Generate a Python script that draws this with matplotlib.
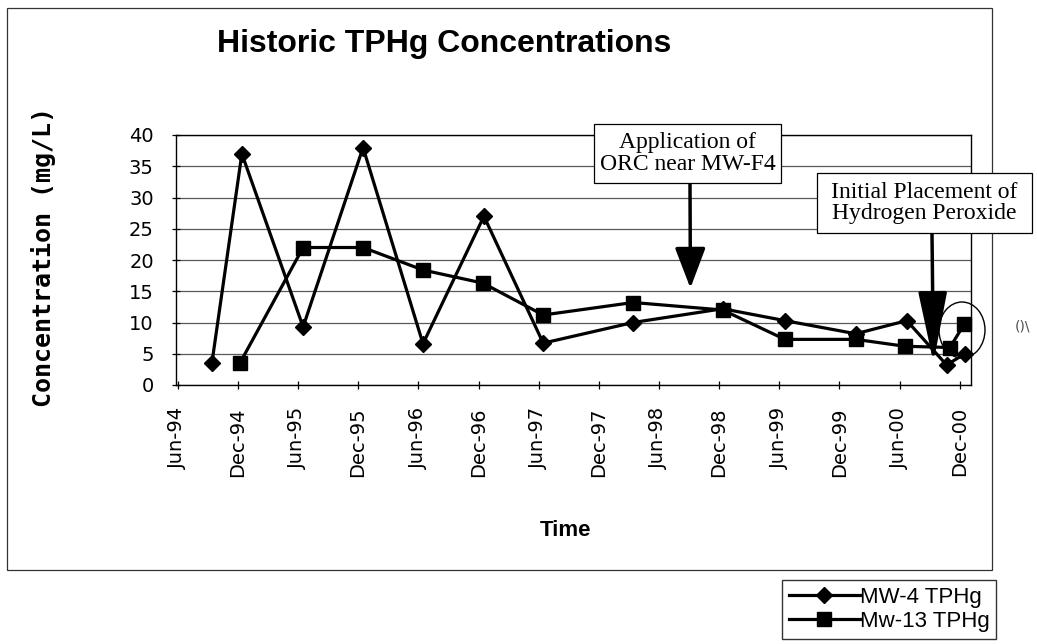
import numpy as np
import matplotlib.pyplot as plt
from matplotlib.patches import Rectangle, Ellipse

# sampling dates and concentrations (mg/L)
mw4_dates = np.array(['1994-09-13', '1994-12-13', '1995-06-17', '1995-12-16',
                      '1996-06-15', '1996-12-17', '1997-06-15', '1998-03-15',
                      '1998-12-12', '1999-06-19', '2000-01-20', '2000-06-23',
                      '2000-10-22', '2000-12-16'], dtype='datetime64[D]')
mw4_tphg = [3.5, 37, 9.3, 38, 6.6, 27, 6.7, 10.0, 12.2, 10.3, 8.2, 10.3, 3.2, 5.0]

mw13_dates = np.array(['1994-12-07', '1995-06-17', '1995-12-16', '1996-06-15',
                       '1996-12-14', '1997-06-15', '1998-03-15', '1998-12-12',
                       '1999-06-19', '2000-01-20', '2000-06-17', '2000-11-01',
                       '2000-12-14'], dtype='datetime64[D]')
mw13_tphg = [3.5, 22, 22, 18.4, 16.3, 11.2, 13.2, 12.0, 7.3, 7.3, 6.2, 6.0, 9.7]

tick_dates = np.array(['1994-06-01', '1994-12-01', '1995-06-01', '1995-12-01',
                       '1996-06-01', '1996-12-01', '1997-06-01', '1997-12-01',
                       '1998-06-01', '1998-12-01', '1999-06-01', '1999-12-01',
                       '2000-06-01', '2000-12-01'], dtype='datetime64[D]')
tick_labels = ['Jun-94', 'Dec-94', 'Jun-95', 'Dec-95', 'Jun-96', 'Dec-96', 'Jun-97',
               'Dec-97', 'Jun-98', 'Dec-98', 'Jun-99', 'Dec-99', 'Jun-00', 'Dec-00']

# events pointed at by the arrows
orc_date = np.datetime64('1998-09-05')
h2o2_date = np.datetime64('2000-09-12')

W, H = 1037, 644
fig = plt.figure(figsize=(W / 100, H / 100), dpi=100)


def px(x, y):
    # pixel position (from top-left) -> figure fraction
    return x / W, 1 - y / H


ax = fig.add_axes([176 / W, 1 - 385 / H, 795 / W, 250 / H])

ax.plot(mw4_dates, mw4_tphg, color='black', lw=2.3, marker='D', ms=8,
        label='MW-4 TPHg', zorder=4, clip_on=False)
ax.plot(mw13_dates, mw13_tphg, color='black', lw=2.3, marker='s', ms=10,
        label='Mw-13 TPHg', zorder=3, clip_on=False)

ax.set_xlim(np.datetime64('1994-05-27'), np.datetime64('2001-01-04'))
ax.set_ylim(0, 40)
ax.set_yticks(np.arange(0, 41, 5))
ax.set_xticks(tick_dates)
ax.set_xticklabels(tick_labels, rotation=90)
ax.grid(axis='y', color='0.35', lw=0.9)
ax.set_axisbelow(True)
for s in ax.spines.values():
    s.set_color('black')
    s.set_linewidth(1.0)
ax.tick_params(axis='both', direction='inout', length=6, width=0.9,
               labelsize=14, pad=13)

# axis titles
fig.text(*px(44, 257), 'Concentration (mg/L)', rotation=90, ha='center', va='center',
         fontsize=18, fontweight='bold', family='DejaVu Sans Mono')
fig.text(*px(565, 530), 'Time', ha='center', va='center', fontsize=16,
         fontweight='bold', family='Liberation Sans')
fig.text(*px(217, 52), 'Historic TPHg Concentrations', ha='left', va='baseline',
         fontsize=23, fontweight='bold', family='Liberation Sans')

# outer chart frame
fig.add_artist(Rectangle(px(7, 570), 985 / W, 562 / H, transform=fig.transFigure,
                         fill=False, lw=0.9, ec='0.2'))

# annotation boxes
def note_box(x0, y0, x1, y1, text):
    fig.add_artist(Rectangle(px(x0, y1), (x1 - x0) / W, (y1 - y0) / H,
                             transform=fig.transFigure, fc='white', ec='black',
                             lw=0.9, zorder=6))
    fig.text(*px((x0 + x1) / 2, (y0 + y1) / 2), text, ha='center', va='center',
             fontsize=17, family='Liberation Serif', linespacing=1.05, zorder=7)


note_box(594, 124, 781, 183, 'Application of\nORC near MW-F4')
note_box(817, 173, 1032, 233, 'Initial Placement of\nHydrogen Peroxide')

ax.annotate('', xy=(orc_date, 15.5), xytext=(690, H - 184), textcoords='figure pixels',
            arrowprops=dict(arrowstyle='-|>,head_length=2.5,head_width=0.95',
                            mutation_scale=10, lw=2.5, color='black',
                            shrinkA=0, shrinkB=0), zorder=5)
ax.annotate('', xy=(h2o2_date, 3.6), xytext=(932, H - 234), textcoords='figure pixels',
            arrowprops=dict(arrowstyle='-|>,head_length=4.4,head_width=0.9',
                            mutation_scale=10, lw=2.5, color='black',
                            shrinkA=0, shrinkB=0), zorder=5)

# hand-drawn circle around the last sample
fig.add_artist(Ellipse(px(962, 330), 46 / W, 56 / H, transform=fig.transFigure,
                       fill=False, lw=1.0, ec='black', zorder=8))
fig.text(*px(1022, 326), '()\\', ha='center', va='center', fontsize=10, color='0.3')

# legend
fig.legend(loc='upper left', bbox_to_anchor=px(782, 580), frameon=True,
           fancybox=False, edgecolor='black', handlelength=3.2,
           handletextpad=0.0, borderpad=0.3, labelspacing=0.15, borderaxespad=0,
           prop={'family': 'Liberation Sans', 'size': 16})

fig.savefig('out.png', dpi=100)
